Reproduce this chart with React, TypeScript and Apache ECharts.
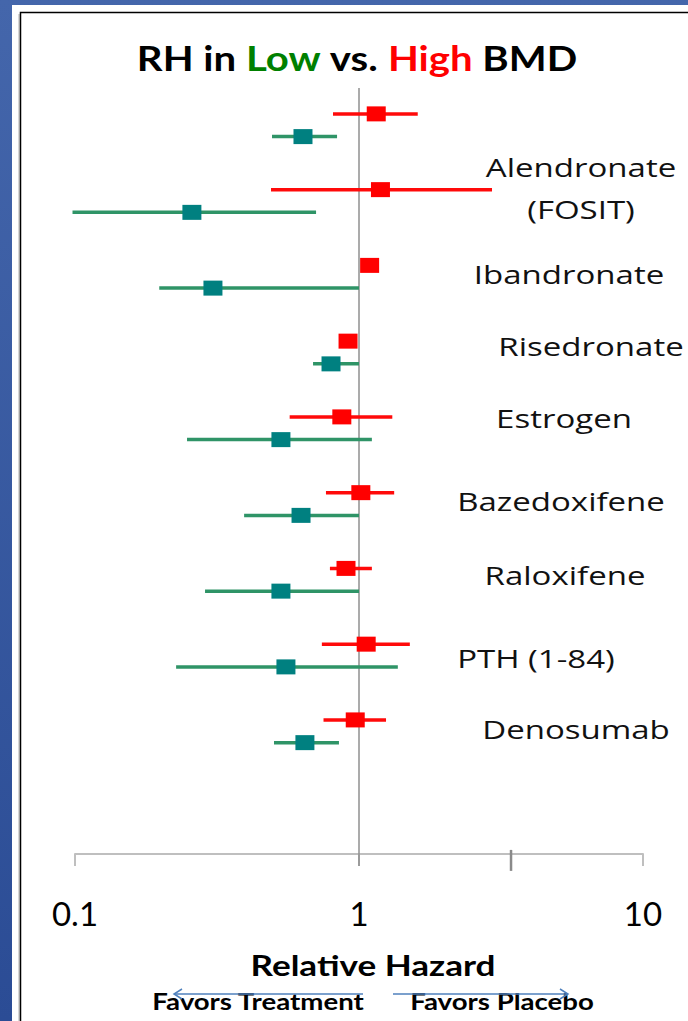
import React, { useEffect, useRef } from 'react';
import * as echarts from 'echarts';

// ---- data ----
const rowLabels = ['Alendronate', '(FOSIT)', 'Ibandronate', 'Risedronate', 'Estrogen', 'Bazedoxifene', 'Raloxifene', 'PTH (1-84)', 'Denosumab'];
const rows = [0, 1, 2, 3, 4, 5, 6, 7, 8];
// High BMD (red)
const highEst = [1.15, 1.19, 1.09, 0.915, 0.87, 1.015, 0.9, 1.06, 0.97];
const highLo = [0.81, 0.49, 1.02, 0.88, 0.57, 0.765, 0.79, 0.74, 0.75];
const highHi = [1.61, 2.94, 1.17, 0.96, 1.31, 1.33, 1.11, 1.51, 1.245];
// Low BMD (teal)
const lowEst = [0.635, 0.258, 0.306, 0.797, 0.531, 0.625, 0.531, 0.553, 0.645];
const lowLo = [0.494, 0.098, 0.198, 0.689, 0.248, 0.394, 0.287, 0.227, 0.502];
const lowHi = [0.837, 0.706, 1.0, 1.0, 1.11, 1.0, 1.0, 1.37, 0.85];
const tickValues = [0.1, 1, 10];
const refValue = 1;
const extraTickValue = 3.43;

// ---- layout (pixels / row units, not data) ----
const LOW_OFFSET = 0.3;
const Y_MIN = -0.5;
const Y_MAX = 9.77;
const REF_TOP = -0.343;
const REF_BOTTOM = 9.927;
const EXTRA_TICK_TOP = 9.716;
const EXTRA_TICK_BOTTOM = 9.993;
const labelPos = [[581, 167], [581, 209], [569, 274], [591, 346], [564, 418], [561, 501], [565, 575], [536, 658], [576, 729]];
const SX = 1.27;

const RED = '#ff0000';
const TEAL = '#008080';
const RED_CI = '#ff0a0a';
const TEAL_CI = '#2f9467';

export default function App() {
  const ref = useRef<HTMLDivElement>(null);
  useEffect(() => {
    const chart = echarts.init(ref.current!, undefined, { renderer: 'svg', width: 688, height: 1021 });

    const ciData: number[][] = [];
    rows.forEach((r, i) => {
      ciData.push([highLo[i], highHi[i], r, 0]);
      ciData.push([lowLo[i], lowHi[i], r + LOW_OFFSET, 1]);
    });
    const refData = [
      [refValue, REF_TOP, REF_BOTTOM, 0],
      [extraTickValue, EXTRA_TICK_TOP, EXTRA_TICK_BOTTOM, 1],
    ];

    const labelTexts = rowLabels.map((t, i) => ({
      type: 'text',
      x: labelPos[i][0],
      y: labelPos[i][1],
      scaleX: SX,
      z: 100,
      style: {
        text: t,
        fill: '#111',
        fontFamily: 'Open Sans',
        fontSize: 26,
        align: 'center',
        verticalAlign: 'middle',
        textAlign: 'center',
        textVerticalAlign: 'middle',
      },
    }));

    const boldText = (text: string, x: number, y: number, size: number, sx: number, extra: any = {}) => ({
      type: 'text',
      x,
      y,
      scaleX: sx,
      z: 100,
      style: {
        text,
        fill: '#000',
        fontFamily: 'Lato',
        fontWeight: 'bold',
        fontSize: size,
        align: 'center',
        verticalAlign: 'middle',
        textAlign: 'center',
        textVerticalAlign: 'middle',
        ...extra,
      },
    });

    const arrowColor = '#4f81bd';

    const option: any = {
      animation: false,
      backgroundColor: '#3d5da3',
      grid: { left: 75, right: 45, top: 76, bottom: 167, containLabel: false },
      xAxis: {
        type: 'log',
        logBase: 10,
        position: 'bottom',
        min: tickValues[0],
        max: tickValues[tickValues.length - 1],
        splitLine: { show: false },
        axisLine: { show: true, onZero: false, lineStyle: { color: '#bfbfbf', width: 2 } },
        axisTick: { show: true, length: 12, lineStyle: { color: '#bfbfbf', width: 2 } },
        axisLabel: {
          color: '#000',
          fontFamily: 'Lato',
          fontSize: 33,
          margin: 42,
          formatter: (v: number) => (v < 1 ? v.toFixed(1) : String(Math.round(v))),
        },
      },
      yAxis: {
        type: 'value',
        inverse: true,
        min: Y_MIN,
        max: Y_MAX,
        show: false,
      },
      graphic: [
        {
          type: 'rect',
          z: -100,
          shape: { x: 0, y: 0, width: 688, height: 1021 },
          style: {
            fill: new echarts.graphic.LinearGradient(0, 0, 0, 1, [
              { offset: 0, color: '#4466ab' },
              { offset: 1, color: '#2b4c95' },
            ]),
          },
        },
        { type: 'rect', z: -99, shape: { x: 12, y: 5, width: 676, height: 1016 }, style: { fill: '#ffffff' } },
        { type: 'line', z: -98, shape: { x1: 19, y1: 14, x2: 19, y2: 1021 }, style: { stroke: '#b0b0b0', lineWidth: 1 } },
        { type: 'rect', z: -97, shape: { x: 20.5, y: 12.5, width: 700, height: 1040 }, style: { fill: 'none', stroke: '#000', lineWidth: 1.5 } },
        boldText('RH in {g|Low} vs. {r|High} BMD', 357, 58, 34, 1.18, {
          rich: {
            g: { fill: '#008000', fontFamily: 'Lato', fontWeight: 'bold', fontSize: 34 },
            r: { fill: '#ff0000', fontFamily: 'Lato', fontWeight: 'bold', fontSize: 34 },
          },
        }),
        ...labelTexts,
        boldText('Relative Hazard', 373, 965, 29, 1.21),
        boldText('Favors Treatment', 258, 1001, 23, 1.2),
        boldText('Favors Placebo', 502, 1001, 23, 1.2),
        { type: 'line', z: 101, shape: { x1: 363, y1: 994, x2: 174, y2: 994 }, style: { stroke: arrowColor, lineWidth: 1.5 } },
        { type: 'polyline', z: 101, shape: { points: [[182, 989], [174, 994], [182, 999]] }, style: { stroke: arrowColor, lineWidth: 1.5, fill: 'none' } },
        { type: 'line', z: 101, shape: { x1: 393, y1: 994, x2: 568, y2: 994 }, style: { stroke: arrowColor, lineWidth: 1.5 } },
        { type: 'polyline', z: 101, shape: { points: [[560, 989], [568, 994], [560, 999]] }, style: { stroke: arrowColor, lineWidth: 1.5, fill: 'none' } },
      ],
      series: [
        {
          type: 'custom',
          name: 'refs',
          silent: true,
          z: 1,
          clip: false,
          encode: { x: 0, y: [1, 2] },
          data: refData,
          renderItem: (params: any, api: any) => {
            const a = api.coord([api.value(0), api.value(1)]);
            const b = api.coord([api.value(0), api.value(2)]);
            const kind = api.value(3);
            return {
              type: 'line',
              shape: { x1: a[0], y1: a[1], x2: b[0], y2: b[1] },
              style: { stroke: kind === 0 ? '#8f8f8f' : '#8a8a8a', lineWidth: kind === 0 ? 1.5 : 2.5 },
            };
          },
        },
        {
          type: 'custom',
          name: 'CI',
          silent: true,
          z: 2,
          clip: false,
          encode: { x: [0, 1], y: 2 },
          data: ciData,
          renderItem: (params: any, api: any) => {
            const a = api.coord([api.value(0), api.value(2)]);
            const b = api.coord([api.value(1), api.value(2)]);
            const kind = api.value(3);
            return {
              type: 'line',
              shape: { x1: a[0], y1: a[1], x2: b[0], y2: b[1] },
              style: { stroke: kind === 0 ? RED_CI : TEAL_CI, lineWidth: 3.5 },
            };
          },
        },
        {
          type: 'scatter',
          name: 'High BMD',
          z: 3,
          symbol: 'rect',
          symbolSize: [19, 15],
          itemStyle: { color: RED, opacity: 1 },
          data: rows.map((r, i) => [highEst[i], r]),
        },
        {
          type: 'scatter',
          name: 'Low BMD',
          z: 3,
          symbol: 'rect',
          symbolSize: [19, 15],
          itemStyle: { color: TEAL, opacity: 1 },
          data: rows.map((r, i) => [lowEst[i], r + LOW_OFFSET]),
        },
      ],
    };
    chart.setOption(option);
    return () => chart.dispose();
  }, []);
  return <div ref={ref} style={{ position: 'fixed', left: 0, top: 0, width: 688, height: 1021 }} />;
}
